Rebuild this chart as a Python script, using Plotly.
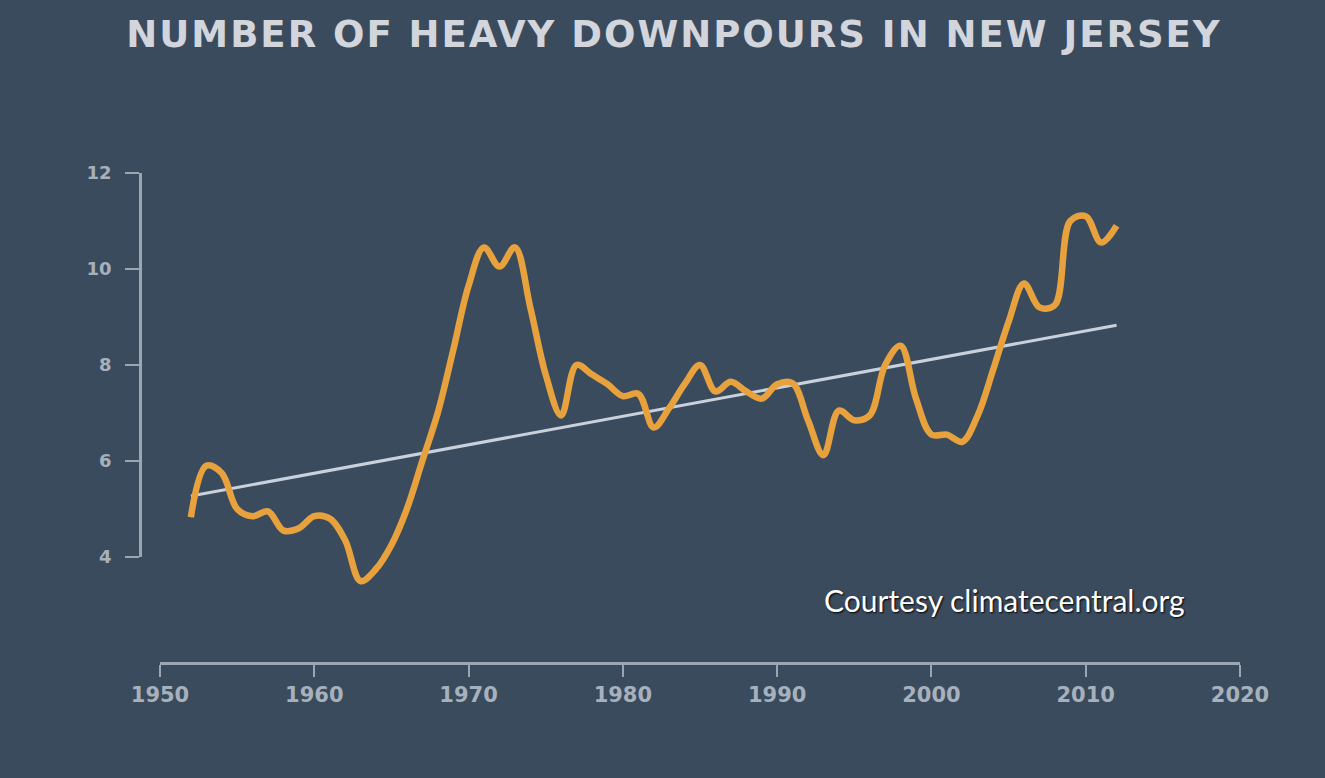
import plotly.graph_objects as go

# ---------------- data ----------------
years = list(range(1952, 2013))
downpours = [
    4.83, 5.9, 5.75, 5.0, 4.85, 4.95, 4.55, 4.6, 4.85, 4.8,   # 1952-1961
    4.35, 3.5, 3.75, 4.25, 5.0, 6.0, 7.0, 8.3, 9.65, 10.45,   # 1962-1971
    10.05, 10.45, 9.2, 7.8, 6.95, 8.0, 7.8, 7.6, 7.35, 7.4,   # 1972-1981
    6.7, 7.1, 7.6, 8.0, 7.45, 7.65, 7.45, 7.3, 7.6, 7.62,     # 1982-1991
    6.85, 6.12, 7.05, 6.85, 6.95, 8.0, 8.4, 7.3, 6.55, 6.55,  # 1992-2001
    6.4, 6.95, 7.9, 8.9, 9.7, 9.2, 9.25, 11.0, 11.1, 10.55,   # 2002-2011
    10.9,                                                      # 2012
]
trend_years = [1952, 2012]
trend_values = [5.27, 8.83]

x_ticks = [1950, 1960, 1970, 1980, 1990, 2000, 2010, 2020]
x_tick_labels = ["1950", "1960", "1970", "1980", "1990", "2000", "2010", "2020"]
y_ticks = [4, 6, 8, 10, 12]
y_tick_labels = ["4", "6", "8", "10", "12"]

title_text = "NUMBER OF HEAVY DOWNPOURS IN NEW JERSEY"
credit_text = "Courtesy climatecentral.org"

# ---------------- style ----------------
BG = "#3b4b5e"
AXIS = "#9ba6b2"
TICKTXT = "#a7b1bc"
ORANGE = "#e8a23d"
TREND = "#c8d1dc"
FONT = "DejaVu Sans"

W, H = 1325, 778
L, R, T, B = 140, 85, 173, 115
pw, ph = W - L - R, H - T - B
x_dom0 = (160 - L) / pw            # x axis starts at 1950 tick
y_px_4 = 557                        # pixel row of value 4
y_dom0 = (H - B - y_px_4) / ph      # visible y axis starts at 4
y_low = 4 - (H - B - y_px_4) / 48.0  # value at bottom of plot area

def spaced(s, px):
    return '<span style="letter-spacing:%spx">%s</span>' % (px, s)

fig = go.Figure()
fig.add_trace(go.Scatter(
    x=trend_years, y=trend_values, mode="lines",
    line=dict(color=TREND, width=3), hoverinfo="skip", showlegend=False,
))
fig.add_trace(go.Scatter(
    x=years, y=downpours, mode="lines",
    line=dict(color=ORANGE, width=6.5, shape="spline", smoothing=1.0),
    showlegend=False,
))
# invisible trace to carry the visible y axis (y2)
fig.add_trace(go.Scatter(x=[None], y=[None], yaxis="y2", showlegend=False, hoverinfo="skip"))

fig.update_layout(
    width=W, height=H,
    paper_bgcolor=BG, plot_bgcolor="rgba(0,0,0,0)",
    margin=dict(l=L, r=R, t=T, b=B),
    title=dict(
        text=spaced(title_text, 2),
        x=674 / W, xref="container", xanchor="center",
        y=1 - 34 / H, yref="container", yanchor="middle",
        font=dict(family=FONT, size=37, color="#d2d6dc", weight="bold"),
    ),
    xaxis=dict(
        domain=[x_dom0, 1], range=[1950, 2020], anchor="free", position=0,
        showline=True, linecolor=AXIS, linewidth=2.5,
        ticks="outside", ticklen=12, tickwidth=2, tickcolor=AXIS,
        tickvals=x_ticks, ticktext=x_tick_labels,
        tickfont=dict(family=FONT, size=21, color=TICKTXT, weight="bold"),
        ticklabelstandoff=0,
        showgrid=False, zeroline=False, fixedrange=True,
    ),
    yaxis=dict(
        domain=[0, 1], range=[y_low, 12], anchor="x",
        visible=False, showgrid=False, zeroline=False, fixedrange=True,
    ),
    yaxis2=dict(
        domain=[y_dom0, 1], range=[4, 12], anchor="free", position=0,
        showline=True, linecolor=AXIS, linewidth=2.5,
        ticks="outside", ticklen=14, tickwidth=2, tickcolor=AXIS,
        tickvals=y_ticks, ticktext=y_tick_labels,
        tickfont=dict(family=FONT, size=18, color=TICKTXT, weight="bold"),
        ticklabelstandoff=10,
        showgrid=False, zeroline=False, fixedrange=True,
    ),
    annotations=[dict(
        text=credit_text, xref="paper", yref="paper",
        x=(822 - L) / pw, y=(H - B - 600) / ph, xanchor="left", yanchor="middle",
        showarrow=False,
        font=dict(family="Lato", size=30, color="#ffffff", shadow="1px 1px 2px #000000"),
    )],
)

fig.write_html(
    "out.html",
    config={"displayModeBar": False},
    post_script="document.body.style.margin='0';document.body.style.overflow='hidden';",
)
